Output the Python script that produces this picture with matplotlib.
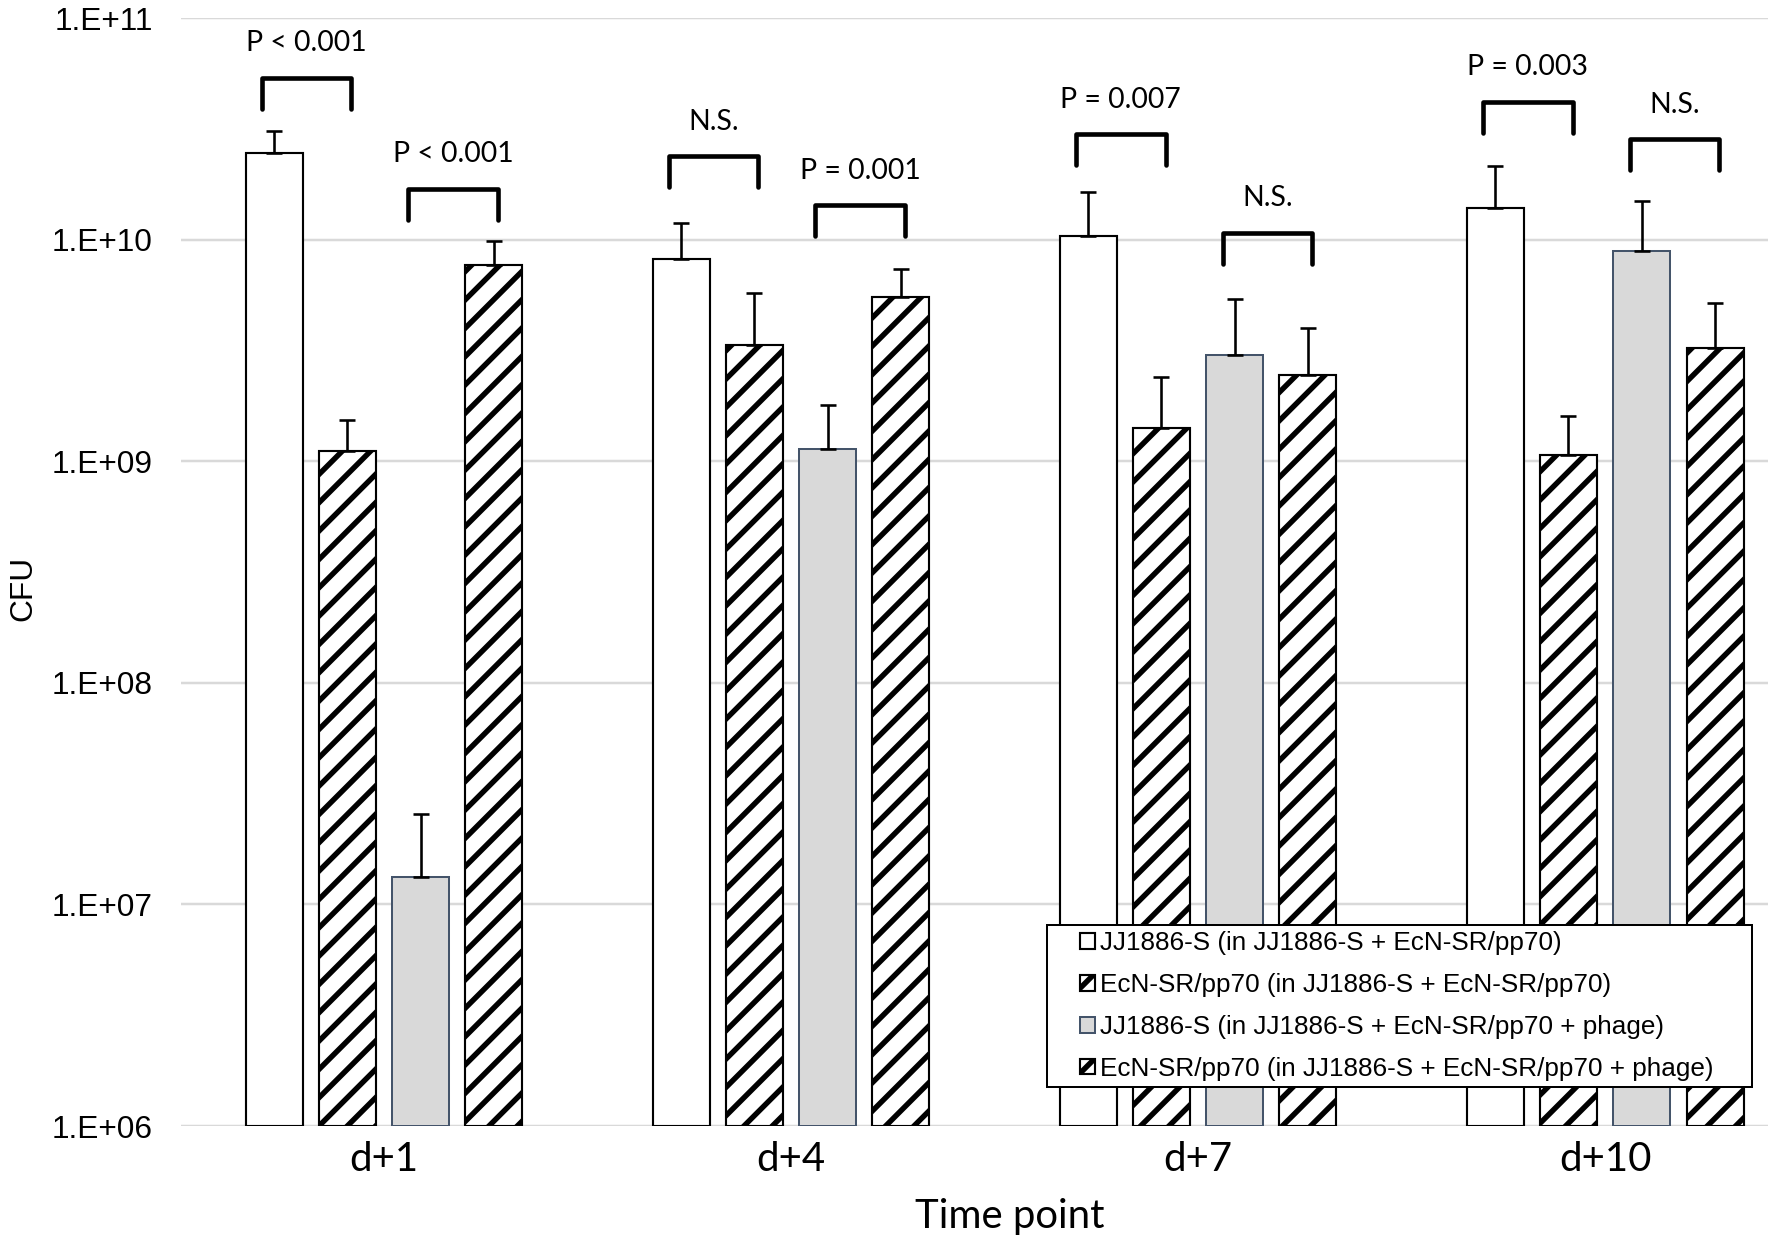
import numpy as np
import matplotlib.pyplot as plt
from matplotlib.ticker import NullLocator
from matplotlib.patches import Rectangle

time_points = ['d+1', 'd+4', 'd+7', 'd+10']

# mean CFU and upper error (SD) per series
jj_mix = [2.47e10, 8.2e9, 1.04e10, 1.39e10]
jj_mix_err = [0.63e10, 0.37e10, 0.60e10, 0.76e10]
ecn_mix = [1.11e9, 3.36e9, 1.41e9, 1.07e9]
ecn_mix_err = [0.42e9, 2.40e9, 0.98e9, 0.53e9]
jj_phage = [1.33e7, 1.14e9, 3.02e9, 8.9e9]
jj_phage_err = [1.23e7, 0.66e9, 2.38e9, 6.0e9]
ecn_phage = [7.7e9, 5.5e9, 2.44e9, 3.24e9]
ecn_phage_err = [2.2e9, 1.86e9, 1.56e9, 1.94e9]

labels = ['JJ1886-S (in JJ1886-S + EcN-SR/pp70)',
          'EcN-SR/pp70 (in JJ1886-S + EcN-SR/pp70)',
          'JJ1886-S (in JJ1886-S + EcN-SR/pp70 + phage)',
          'EcN-SR/pp70 (in JJ1886-S + EcN-SR/pp70 + phage)']

# significance brackets: (group, bar a, bar b, text)
brackets = [(0, 0, 1, 'P < 0.001'), (0, 2, 3, 'P < 0.001'),
            (1, 0, 1, 'N.S.'), (1, 2, 3, 'P = 0.001'),
            (2, 0, 1, 'P = 0.007'), (2, 2, 3, 'N.S.'),
            (3, 0, 1, 'P = 0.003'), (3, 2, 3, 'N.S.')]
bracket_gap = [0.10, 0.095, 0.16, 0.15, 0.12, 0.16, 0.15, 0.14]  # decades above error bar

DPI = 85  # hatch cell is one inch, so this sets the stripe spacing
plt.rcParams['hatch.linewidth'] = 4.6
plt.rcParams['hatch.color'] = 'black'

fig = plt.figure(figsize=(1772/DPI, 1240/DPI), dpi=DPI)
ax = fig.add_axes([0.1021, 0.0919, 0.8956, 0.8935])
ax.set_yscale('log')
ymin = 1e6

x = np.arange(len(time_points))
width = 0.14
offsets = [-0.27, -0.09, 0.09, 0.27]
series = [jj_mix, ecn_mix, jj_phage, ecn_phage]
errs = [jj_mix_err, ecn_mix_err, jj_phage_err, ecn_phage_err]
styles = [dict(color='white', edgecolor='black', linewidth=1.8),
          dict(color='white', edgecolor='black', linewidth=1.8, hatch='/'),
          dict(color='#d9d9d9', edgecolor='#44546a', linewidth=1.7),
          dict(color='white', edgecolor='black', linewidth=1.8, hatch='/')]

handles = []
for vals, err, off, st in zip(series, errs, offsets, styles):
    vals = np.array(vals)
    b = ax.bar(x + off, vals - ymin, width, bottom=ymin, **st)
    handles.append(b)
    ax.errorbar(x + off, vals, yerr=[np.zeros(len(vals)), err], fmt='none',
                ecolor='black', elinewidth=2.2, capsize=7, capthick=2.2)

tops = [np.array(v) + np.array(e) for v, e in zip(series, errs)]
for (g, a, b, txt), gap in zip(brackets, bracket_gap):
    xl = g + offsets[a] - 0.03
    xr = g + offsets[b] + 0.01
    base = max(tops[a][g], tops[b][g]) * 10**gap
    top = base * 10**0.14
    ax.plot([xl, xl, xr, xr], [base, top, top, base], color='black', lw=3.9,
            solid_joinstyle='round', solid_capstyle='round')
    ax.text((xl + xr) / 2, top * 10**0.155, txt, ha='center', va='center',
            fontsize=24, family='Lato')

ax.set_xlim(-0.499, 3.40)
ax.set_ylim(1e6, 1e11)
ax.set_yticks([1e6, 1e7, 1e8, 1e9, 1e10, 1e11],
              ['1.E+06', '1.E+07', '1.E+08', '1.E+09', '1.E+10', '1.E+11'],
              fontsize=26.8, family='Liberation Sans')
ax.yaxis.set_minor_locator(NullLocator())
ax.set_xticks(x, time_points, fontsize=34, family='Lato')
ax.tick_params(axis='y', length=0, pad=24)
ax.tick_params(axis='x', length=0, pad=12.7)
for s in ax.spines.values():
    s.set_visible(False)
ax.yaxis.grid(True, color='#d9d9d9', lw=2.1)
ax.set_axisbelow(True)

ax.set_ylabel('CFU', fontsize=26.8, family='Liberation Sans')
ax.yaxis.set_label_coords(-0.09, 0.485)
ax.set_xlabel('Time point', fontsize=34, family='Lato')
ax.xaxis.set_label_coords(0.522, -0.065)

# legend box is wider on the left than matplotlib's padding, so draw it separately
box = Rectangle((0.5457, 0.0352), 0.4442, 0.1462, transform=ax.transAxes,
                facecolor='white', edgecolor='black', lw=1.7, zorder=4)
ax.add_patch(box)
leg = ax.legend(handles, labels, loc='center left', bbox_to_anchor=(0.5667, 0.1083),
                borderaxespad=0, prop={'family': 'Liberation Sans', 'size': 22.1},
                frameon=False, handlelength=0.55, handleheight=0.55,
                handletextpad=0.2, labelspacing=0.68, borderpad=0)
leg.set_zorder(5)

fig.savefig('out.png', dpi=DPI)
